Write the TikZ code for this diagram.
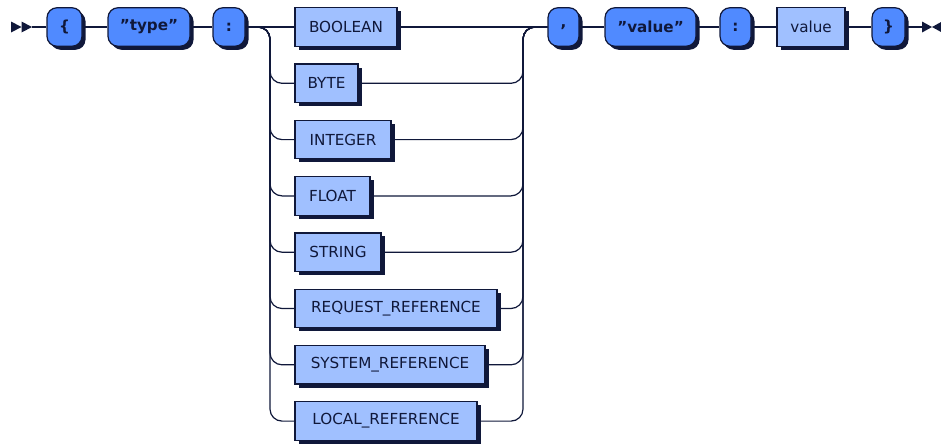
\documentclass[tikz,border=0pt]{standalone}
\usepackage{fontspec}
\setmainfont{DejaVu Sans}[Ligatures=ResetAll]
\usetikzlibrary{shadows}
\definecolor{linec}{RGB}{16,24,58}
\definecolor{termfill}{RGB}{80,138,255}
\definecolor{ntfill}{RGB}{160,192,255}
\newcommand{\dq}{\symbol{34}}
\tikzset{
  rail/.style={draw=linec, line width=1.2pt},
  boxbase/.style={draw=linec, line width=1.2pt, minimum height=38.5pt, inner sep=0pt,
    text=linec, font=\fontsize{15.2}{18}\selectfont,
    drop shadow={shadow xshift=3.5pt, shadow yshift=-3.5pt, opacity=1, fill=linec}},
  term/.style={boxbase, fill=termfill, rounded corners=10pt,
    font=\fontsize{15.2}{18}\selectfont\bfseries},
  nonterm/.style={boxbase, fill=ntfill},
  ends/.style={fill=linec, draw=none},
}
\begin{document}
\begin{tikzpicture}[x=1pt, y=-1pt]
\useasboundingbox (0,0) rectangle (941,445);

% main row
\node[term, minimum width=35pt] (lb) at (64.5,27) {\{};
\node[term, minimum width=82pt] (typ) at (149,27) {\dq type\dq};
\node[term, minimum width=32pt] (col1) at (229,27) {:};
\node[term, minimum width=31pt] (comma) at (563.5,27) {,};
\node[term, minimum width=91pt] (valq) at (650.5,27) {\dq value\dq};
\node[term, minimum width=31pt] (col2) at (735.5,27) {:};
\node[nonterm, minimum width=68pt] (valnt) at (811,27) {value};
\node[term, minimum width=33pt] (rb) at (888.5,27) {\}};

% alternatives
\node[nonterm, minimum width=102pt] (t1) at (346,27) {BOOLEAN};
\node[nonterm, minimum width=63pt] (t2) at (326.5,83.3) {BYTE};
\node[nonterm, minimum width=96pt] (t3) at (343,139.6) {INTEGER};
\node[nonterm, minimum width=75pt] (t4) at (332.5,195.9) {FLOAT};
\node[nonterm, minimum width=86pt] (t5) at (338,252.2) {STRING};
\node[nonterm, minimum width=202pt] (t6) at (396,308.5) {REQUEST\_REFERENCE};
\node[nonterm, minimum width=190pt] (t7) at (390,364.8) {SYSTEM\_REFERENCE};
\node[nonterm, minimum width=182pt] (t8) at (386,421.1) {LOCAL\_REFERENCE};

% start and end markers
\coordinate (st) at (32,27);
\coordinate (en) at (922,27);
\fill[ends] (11,21.5) -- (21.5,27) -- (11,32.5) -- cycle;
\fill[ends] (21.5,21.5) -- (32,27) -- (21.5,32.5) -- cycle;
\fill[ends] (922,21.5) -- (932,27) -- (922,32.5) -- cycle;
\fill[ends] (942,21.5) -- (932,27) -- (942,32.5) -- cycle;

% branch points
\coordinate (L) at (270,27);
\coordinate (R) at (523,27);

\begin{scope}[on background layer/.try]
\draw[rail] (st) -- (lb);
\draw[rail] (lb) -- (typ);
\draw[rail] (typ) -- (col1);
\draw[rail] (col1.east) -- (t1.west);
\draw[rail] (t1.east) -- (comma.west);
\foreach \t in {t2,t3,t4,t5,t6,t7,t8}{
  \draw[rail, rounded corners=12pt] (col1.east) -- (L) |- (\t.west);
  \draw[rail, rounded corners=12pt] (\t.east) -| (R) -- (comma.west);
}
\draw[rail] (comma) -- (valq);
\draw[rail] (valq) -- (col2);
\draw[rail] (col2) -- (valnt);
\draw[rail] (valnt) -- (rb);
\draw[rail] (rb) -- (en);
\end{scope}
\end{tikzpicture}
\end{document}
